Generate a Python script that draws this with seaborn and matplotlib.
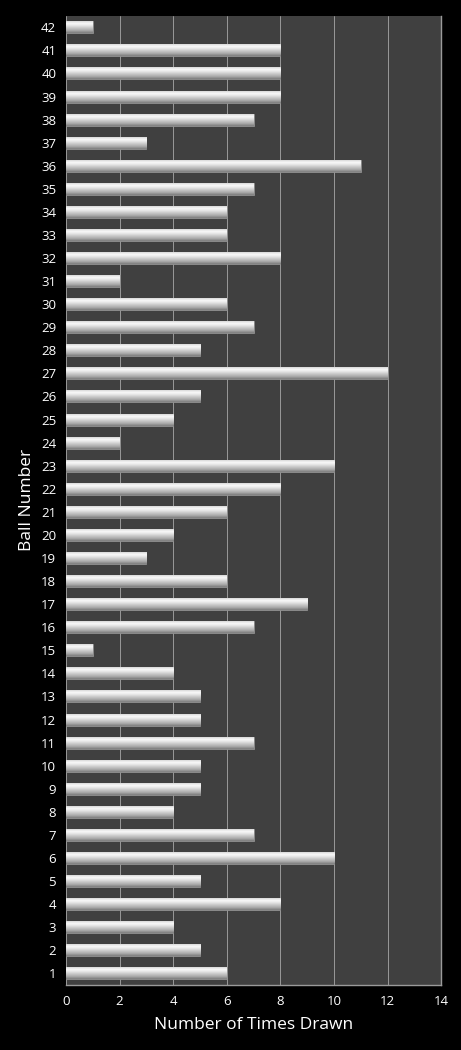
import numpy as np
import pandas as pd
import matplotlib
matplotlib.use("Agg")
import matplotlib.pyplot as plt
import seaborn as sns
from matplotlib.colors import LinearSegmentedColormap

balls = list(range(1, 43))
times_drawn = [6, 5, 4, 8, 5, 10, 7, 4, 5, 5,
               7, 5, 5, 4, 1, 7, 9, 6, 3, 4,
               6, 8, 10, 2, 4, 5, 12, 5, 7, 6,
               2, 8, 6, 6, 7, 11, 3, 7, 8, 8,
               8, 1]

df = pd.DataFrame({"ball": [str(b) for b in balls], "times": times_drawn})
order = [str(b) for b in reversed(balls)]

sns.set_style("dark")
plt.rcParams['font.family'] = ['Open Sans', 'DejaVu Sans']

fig = plt.figure(figsize=(4.61, 10.5), dpi=100, facecolor="black")
ax = fig.add_axes([0.143, 0.062, 0.814, 0.923])
ax.set_facecolor("#404040")

sns.barplot(data=df, x="times", y="ball", order=order, orient="h",
            width=0.52, color="#c8c8c8", ax=ax, zorder=3)

# silver cylinder look on each bar
silver = LinearSegmentedColormap.from_list(
    "silver", ["#d8d8d8", "#fafafa", "#e2e2e2", "#c4c4c4", "#a8a8a8", "#7c7c7c"])
grad = np.linspace(0, 1, 64).reshape(-1, 1)
for p in ax.patches:
    x0, y0 = p.get_x(), p.get_y()
    w, h = p.get_width(), p.get_height()
    im = ax.imshow(grad, cmap=silver, aspect="auto", zorder=4,
                   extent=[x0, x0 + w, y0 + h, y0], interpolation="bilinear")
    im.set_clip_path(p)
    p.set_edgecolor("#8a8a8a")
    p.set_linewidth(0.6)

ax.set_xlim(0, 14)
ax.set_ylim(41.5, -0.5)
ax.set_xticks(range(0, 15, 2))
ax.grid(axis="x", color="#a8a8a8", linewidth=0.6, zorder=1)
ax.grid(axis="y", visible=False)
ax.set_axisbelow(True)

for side in ["top", "left"]:
    ax.spines[side].set_visible(False)
for side in ["right", "bottom"]:
    ax.spines[side].set_visible(True)
    ax.spines[side].set_color("#9a9a9a")
    ax.spines[side].set_linewidth(1)

ax.tick_params(axis="both", colors="white", labelsize=9.5, length=0, pad=7)
ax.set_xlabel("Number of Times Drawn", color="white", fontsize=12.5, labelpad=7)
ax.set_ylabel("Ball Number", color="white", fontsize=12.5, labelpad=4)

fig.savefig("out.png", dpi=100, facecolor="black")
